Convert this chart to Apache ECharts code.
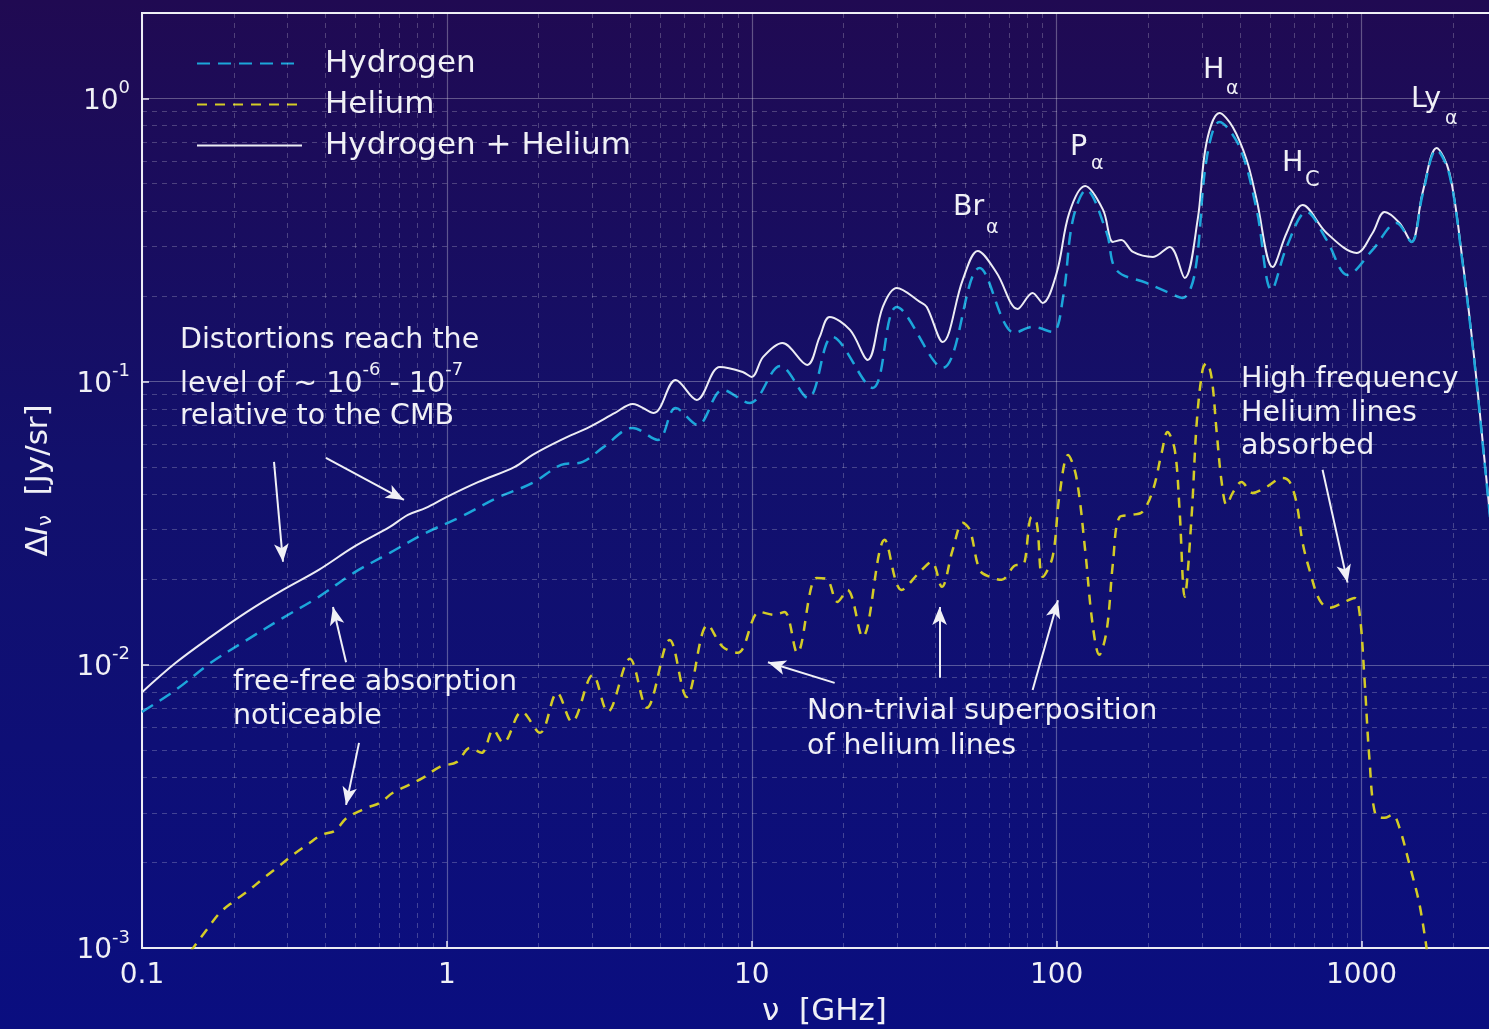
<!DOCTYPE html>
<html>
<head>
<meta charset="utf-8">
<title>Recombination line spectrum</title>
<script src="https://cdn.jsdelivr.net/npm/echarts@6/dist/echarts.min.js"></script>
<style>
  html, body { margin: 0; padding: 0; background: #12106a; }
  #chart { width: 1489px; height: 1029px; }
</style>
</head>
<body>
<div id="chart"></div>
<script>
// Spectral distortion ΔI_ν [Jy/sr] against frequency ν [GHz]
const total = [
  [0.1, 8.0e-3], [0.129, 1.016e-2], [0.168, 1.254e-2], [0.221, 1.537e-2], [0.290, 1.838e-2],
  [0.380, 2.163e-2], [0.495, 2.607e-2], [0.650, 3.067e-2], [0.745, 3.382e-2], [0.853, 3.580e-2],
  [1.00, 3.915e-2], [1.27, 4.42e-2], [1.67, 4.995e-2], [1.91, 5.507e-2], [2.37, 6.22e-2],
  [2.94, 6.915e-2], [3.56, 7.745e-2], [4.07, 8.335e-2], [4.77, 7.745e-2], [5.63, 0.1013],
  [6.60, 8.61e-2], [7.86, 0.1126], [9.34, 0.1081], [10.0, 0.1038], [10.9, 0.1221],
  [12.6, 0.1368], [15.2, 0.1144], [16.7, 0.1437], [18.0, 0.169], [21.0, 0.1521],
  [24.0, 0.1192], [26.9, 0.1834], [29.9, 0.214], [35.6, 0.191], [37.5, 0.1834],
  [42.3, 0.1379], [49.2, 0.2284], [55.1, 0.2891], [63.6, 0.2417], [74.5, 0.1804],
  [83.4, 0.2055], [90.0, 0.1894], [100, 0.2417], [110, 0.3937], [124, 0.4903],
  [142, 0.4035], [153, 0.3111], [163, 0.3161], [178, 0.2868], [207, 0.2754],
  [235, 0.2987], [263, 0.2321], [290, 0.3719], [310, 0.6955], [342, 0.8873],
  [378, 0.792], [420, 0.6057], [453, 0.4375], [511, 0.2538], [568, 0.3346],
  [641, 0.4201], [768, 0.3346], [963, 0.2844], [1087, 0.3346], [1190, 0.3969],
  [1332, 0.3629], [1459, 0.3111], [1585, 0.4631], [1762, 0.6679], [1943, 0.5448],
  [2143, 0.2687], [2312, 0.1368], [2401, 0.0934], [2512, 0.0574], [2731, 0.0235], [2944, 0.0113]
];

const hydrogen = [
  [0.1, 6.82e-3], [0.129, 8.15e-3], [0.168, 1.016e-2], [0.221, 1.224e-2], [0.290, 1.464e-2],
  [0.380, 1.737e-2], [0.495, 2.111e-2], [0.650, 2.483e-2], [0.853, 2.921e-2], [1.11, 3.327e-2],
  [1.46, 3.882e-2], [1.91, 4.385e-2], [2.37, 5.077e-2], [2.79, 5.202e-2], [3.27, 5.877e-2],
  [4.07, 6.859e-2], [4.92, 6.22e-2], [5.63, 8.066e-2], [6.65, 7.028e-2], [8.03, 9.34e-2],
  [9.85, 8.403e-2], [12.4, 0.1135], [15.3, 8.75e-2], [18.4, 0.1437], [24.9, 9.49e-2],
  [29.9, 0.1834], [42.3, 0.1117], [55.9, 0.2518], [72.8, 0.1484], [83.4, 0.1559],
  [97.0, 0.1496], [105, 0.1989], [113, 0.3719], [125, 0.4746], [146, 0.3346],
  [157, 0.2477], [197, 0.2228], [230, 0.2072], [259, 0.1973], [284, 0.2417],
  [310, 0.6057], [342, 0.8249], [398, 0.6733], [453, 0.4035], [507, 0.2106],
  [568, 0.2987], [660, 0.3969], [768, 0.3161], [900, 0.2378], [1087, 0.2914],
  [1302, 0.3629], [1459, 0.3111], [1585, 0.4557], [1762, 0.6572], [1943, 0.5361],
  [2143, 0.2643], [2312, 0.1346], [2401, 0.0919], [2512, 0.0564], [2731, 0.0231], [2944, 0.0111]
];

const helium = [
  [0.144, 9.7e-4], [0.163, 1.159e-3], [0.180, 1.331e-3], [0.199, 1.456e-3], [0.221, 1.579e-3],
  [0.249, 1.755e-3], [0.277, 1.919e-3], [0.313, 2.133e-3], [0.348, 2.313e-3], [0.389, 2.510e-3],
  [0.429, 2.593e-3], [0.470, 2.882e-3], [0.547, 3.126e-3], [0.603, 3.255e-3], [0.665, 3.531e-3],
  [0.740, 3.737e-3], [0.834, 3.988e-3], [0.948, 4.361e-3], [1.08, 4.542e-3], [1.19, 5.088e-3],
  [1.30, 4.887e-3], [1.42, 5.891e-3], [1.53, 5.302e-3], [1.76, 6.82e-3], [2.02, 5.75e-3],
  [2.30, 7.96e-3], [2.57, 6.29e-3], [3.01, 9.21e-3], [3.37, 6.82e-3], [3.98, 1.049e-2],
  [4.53, 7.05e-3], [5.38, 1.224e-2], [6.12, 7.70e-3], [7.17, 1.383e-2], [8.03, 1.157e-2],
  [9.00, 1.102e-2], [10.6, 1.537e-2], [11.9, 1.500e-2], [12.8, 1.537e-2], [14.1, 1.102e-2],
  [16.3, 2.026e-2], [17.6, 2.010e-2], [19.1, 1.667e-2], [20.6, 1.838e-2], [23.1, 1.254e-2],
  [27.3, 2.760e-2], [31.0, 1.838e-2], [35.6, 2.128e-2], [38.9, 2.307e-2], [42.0, 1.884e-2],
  [45.6, 2.544e-2], [49.2, 3.170e-2], [51.9, 2.994e-2], [55.9, 2.163e-2], [60.3, 2.043e-2],
  [66.0, 1.994e-2], [73.9, 2.252e-2], [77.4, 2.252e-2], [82.8, 3.327e-2], [86.0, 3.170e-2],
  [90.0, 2.043e-2], [97.0, 2.404e-2], [102, 3.915e-2], [109, 5.507e-2], [116, 4.604e-2],
  [124, 2.544e-2], [131, 1.406e-2], [138, 1.084e-2], [146, 1.328e-2], [153, 2.289e-2],
  [161, 3.327e-2], [176, 3.382e-2], [191, 3.465e-2], [207, 4.143e-2], [221, 5.598e-2],
  [231, 6.640e-2], [244, 5.736e-2], [253, 3.522e-2], [263, 1.737e-2], [277, 3.327e-2],
  [288, 7.145e-2], [301, 0.1099], [310, 0.1163], [322, 0.1038], [335, 6.586e-2],
  [348, 4.385e-2], [361, 3.667e-2], [378, 4.044e-2], [404, 4.42e-2], [439, 4.044e-2],
  [488, 4.245e-2], [551, 4.567e-2], [581, 4.42e-2], [612, 3.728e-2], [641, 2.694e-2],
  [675, 2.163e-2], [728, 1.694e-2], [785, 1.588e-2], [867, 1.654e-2], [948, 1.722e-2],
  [985, 1.525e-2], [1023, 8.85e-3], [1062, 4.616e-3], [1111, 2.953e-3], [1190, 2.882e-3],
  [1264, 2.953e-3], [1332, 2.657e-3], [1437, 1.966e-3], [1550, 1.421e-3], [1646, 9.46e-4]
];

// Axis ranges and labels
const xRange = [0.1, 3000];
const yRange = [0.001, 2];
const xTickLabels = ['0.1', '1', '10', '100', '1000'];
const decadesX = [0.1, 1, 10, 100, 1000];
const decadesY = [0.001, 0.01, 0.1, 1];
const minorSteps = [2, 3, 4, 5, 6, 7, 8, 9];

// Annotation arrows: [tail, head] in (GHz, Jy/sr)
const arrows = [
  [[0.271, 0.0520], [0.290, 0.0231]],
  [[0.401, 0.0537], [0.723, 0.0382]],
  [[0.467, 0.0102], [0.423, 0.0160]],
  [[0.515, 0.00530], [0.467, 0.00320]],
  [[18.7, 0.00863], [11.3, 0.0102]],
  [[41.3, 0.00899], [41.3, 0.0160]],
  [[83.4, 0.00815], [101, 0.0169]],
  [[745, 0.0488], [900, 0.0195]]
];

const WHITE = '#ececf4';
const CYAN = '#1ca6da';
const YELLOW = '#d4cc26';
const TEXT = '#f0f0f6';
const FONT = '"DejaVu Sans", sans-serif';

const minorX = [];
decadesX.forEach(d => minorSteps.forEach(k => { const v = d * k; if (v < xRange[1]) minorX.push(v); }));
const minorY = [];
decadesY.forEach(d => minorSteps.forEach(k => { const v = d * k; if (v < yRange[1]) minorY.push(v); }));

function isDecade(v) {
  const l = Math.log10(v);
  return Math.abs(l - Math.round(l)) < 1e-6;
}

function text(x, y, str, size, extra) {
  return {
    type: 'text', x: x, y: y, silent: true, z: 20,
    style: Object.assign({
      text: str, fill: TEXT, font: size + 'px ' + FONT,
      align: 'left', verticalAlign: 'middle'
    }, extra || {})
  };
}

const chart = echarts.init(document.getElementById('chart'), null, { renderer: 'canvas', width: 1489, height: 1029 });

chart.setOption({
  animation: false,
  backgroundColor: {
    type: 'linear', x: 0, y: 0, x2: 0, y2: 1,
    colorStops: [
      { offset: 0, color: '#200a52' },
      { offset: 0.45, color: '#12106c' },
      { offset: 1, color: '#0a0e80' }
    ]
  },
  textStyle: { fontFamily: FONT },
  grid: {
    left: 142, right: -18, top: 13, bottom: 81,
    show: true, borderColor: WHITE, borderWidth: 2,
    backgroundColor: 'transparent',
    containLabel: false, outerBoundsMode: 'none'
  },
  legend: {
    data: ['Hydrogen', 'Helium', 'Hydrogen + Helium'],
    orient: 'vertical', left: 191, top: 43,
    itemWidth: 105, itemHeight: 20, itemGap: 10,
    itemStyle: { opacity: 0, borderWidth: 0 },
    textStyle: { color: TEXT, fontSize: 31, fontFamily: FONT, padding: [0, 0, 0, 18] },
    inactiveColor: '#888'
  },
  xAxis: {
    type: 'log', logBase: 10, min: xRange[0], max: xRange[1],
    name: 'ν  [GHz]', nameLocation: 'middle', nameGap: 48,
    nameTextStyle: { color: TEXT, fontSize: 31, fontFamily: FONT },
    axisLine: { show: true, lineStyle: { color: WHITE, width: 2 } },
    axisTick: { show: true, inside: true, length: 7, lineStyle: { color: WHITE, width: 1.5 } },
    axisLabel: {
      color: TEXT, fontSize: 28, fontFamily: FONT, margin: 14,
      formatter: v => isDecade(v) ? xTickLabels[Math.round(Math.log10(v)) + 1] : ''
    },
    splitLine: { show: true, lineStyle: { color: 'rgba(255,255,255,0.30)', width: 1.2 } }
  },
  yAxis: {
    type: 'log', logBase: 10, min: yRange[0], max: yRange[1],
    name: '{d|Δ}{i|I}{s|ν}{d|  [Jy/sr]}', nameLocation: 'middle', nameRotate: 90, nameGap: 86,
    nameTextStyle: {
      color: TEXT, fontFamily: FONT,
      rich: {
        d: { fontSize: 31, color: TEXT, fontFamily: FONT },
        i: { fontSize: 31, color: TEXT, fontFamily: FONT, fontStyle: 'italic' },
        s: { fontSize: 20, color: TEXT, fontFamily: FONT, padding: [14, 0, 0, 0] }
      }
    },
    axisLine: { show: true, lineStyle: { color: WHITE, width: 2 } },
    axisTick: { show: true, inside: true, length: 7, lineStyle: { color: WHITE, width: 1.5 } },
    axisLabel: {
      margin: 12,
      formatter: v => isDecade(v) ? '{b|10}{s|' + Math.round(Math.log10(v)) + '}' : '',
      rich: {
        b: { fontSize: 28, color: TEXT, fontFamily: FONT, padding: [6, 0, 0, 0] },
        s: { fontSize: 18, color: TEXT, fontFamily: FONT, padding: [0, 0, 20, 0] }
      }
    },
    splitLine: { show: true, lineStyle: { color: 'rgba(255,255,255,0.30)', width: 1.2 } }
  },
  graphic: [
    text(180, 341, 'Distortions reach the', 28.5),
    text(180, 385, 'level of ~ 10{s|-6} - 10{s|-7}', 28.5, {
      rich: { s: { fontSize: 18, fill: TEXT, fontFamily: FONT, padding: [0, 0, 30, 0] } }
    }),
    text(180, 417, 'relative to the CMB', 28.5),
    text(233, 683, 'free-free absorption', 28.5),
    text(233, 717, 'noticeable', 28.5),
    text(807, 712, 'Non-trivial superposition', 28.5),
    text(807, 747, 'of helium lines', 28.5),
    text(1241, 380, 'High frequency', 28.5),
    text(1241, 414, 'Helium lines', 28.5),
    text(1241, 447, 'absorbed', 28.5),
    text(953, 208, 'Br', 28.5), text(986, 228, 'α', 19),
    text(1070, 148, 'P', 28.5), text(1091, 164, 'α', 19),
    text(1203, 71, 'H', 28.5), text(1226, 89, 'α', 19),
    text(1282, 164, 'H', 28.5), text(1305, 181, 'C', 21),
    text(1411, 100, 'Ly', 28.5), text(1445, 119, 'α', 19)
  ],
  series: [
    {
      name: 'minor grid', type: 'line', data: [], silent: true, z: 1,
      markLine: {
        silent: true, symbol: ['none', 'none'], label: { show: false }, animation: false,
        precision: 8,
        lineStyle: { color: 'rgba(255,255,255,0.22)', width: 1, type: [5, 5] },
        emphasis: { disabled: true },
        data: minorX.map(v => ({ xAxis: v })).concat(minorY.map(v => ({ yAxis: v })))
      }
    },
    {
      name: 'Hydrogen + Helium', type: 'line', data: total, symbol: 'none', showSymbol: false,
      smooth: 0.35, z: 3,
      lineStyle: { color: WHITE, width: 2 }, itemStyle: { color: WHITE }
    },
    {
      name: 'Hydrogen', type: 'line', data: hydrogen, symbol: 'none', showSymbol: false,
      smooth: 0.35, z: 4,
      lineStyle: { color: CYAN, width: 2.5, type: [13, 8] }, itemStyle: { color: CYAN }
    },
    {
      name: 'Helium', type: 'line', data: helium, symbol: 'none', showSymbol: false,
      smooth: 0.35, z: 5,
      lineStyle: { color: YELLOW, width: 2.5, type: [10, 8] }, itemStyle: { color: YELLOW }
    },
    {
      name: 'arrows', type: 'line', data: [], silent: true, z: 6,
      markLine: {
        silent: true, symbol: ['none', 'arrow'], symbolSize: [11, 18], label: { show: false },
        animation: false, emphasis: { disabled: true }, precision: 8,
        lineStyle: { color: TEXT, width: 2, type: 'solid' },
        data: arrows.map(a => [{ coord: a[0] }, { coord: a[1] }])
      }
    }
  ]
});
</script>
</body>
</html>
